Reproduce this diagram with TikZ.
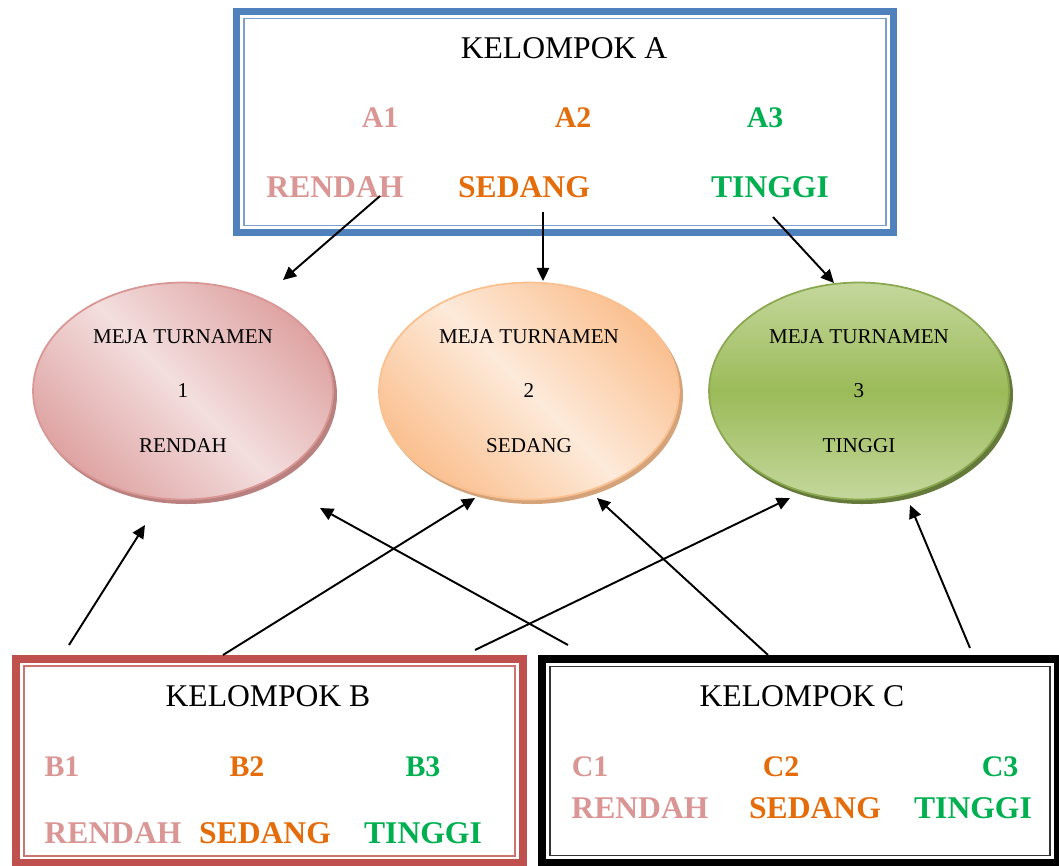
\documentclass[tikz,border=0pt]{standalone}
\usepackage{fontspec}
\setmainfont{Liberation Serif}
\usetikzlibrary{arrows.meta,positioning,calc,shapes.geometric}
\definecolor{grpA}{RGB}{79,129,189}
\definecolor{grpB}{RGB}{192,80,77}
\definecolor{lowcol}{RGB}{217,150,148}
\definecolor{midcol}{RGB}{228,108,10}
\definecolor{highcol}{RGB}{0,176,80}
\definecolor{lowdark}{RGB}{222,164,163}
\definecolor{lowlight}{RGB}{243,222,222}
\definecolor{middark}{RGB}{250,192,144}
\definecolor{midlight}{RGB}{253,234,218}
\definecolor{highdark}{RGB}{155,187,89}
\definecolor{highlight}{RGB}{196,215,156}
\tikzset{
  grpbox/.style={rectangle, draw, outer sep=0pt, inner sep=0pt},
  innerln/.style={line width=1.1pt},
  mejaell/.style={ellipse, draw, line width=1pt, inner sep=0pt,
    minimum width=6cm, minimum height=4.34cm, align=center,
    font=\fontsize{12}{14}\selectfont},
  tolink/.style={-{Triangle[length=7.5pt,width=7pt]}, line width=1.1pt},
}
\newcommand{\grpfont}{\fontsize{18}{20}\selectfont}
\newcommand{\codefont}{\fontsize{17}{19}\selectfont\bfseries}
\newcommand{\lvlfont}{\fontsize{18}{20}\selectfont\bfseries}
\newcommand{\mejaedge}[2]{%
  \fill[#1] #2 ellipse (151 and 109);
}

\begin{document}
\begin{tikzpicture}[x=0.02cm, y=-0.02cm]
  \useasboundingbox (0,0) rectangle (1059,866);

  % kelompok boxes
  \node[grpbox, draw=grpA, line width=3.98pt, minimum width=13.14cm, minimum height=4.42cm] (boxA) at (565,122) {};
  \draw[grpA!75, innerln] ($(boxA.north west)+(7,7)$) rectangle ($(boxA.south east)+(-7,-7)$);
  \node[grpbox, draw=grpB, line width=4.55pt, minimum width=10.14cm, minimum height=4.1cm] (boxB) at (269.5,761) {};
  \draw[grpB!80, innerln] ($(boxB.north west)+(7.5,7.5)$) rectangle ($(boxB.south east)+(-7.5,-7.5)$);
  \node[grpbox, draw=black, line width=4.55pt, minimum width=10.33cm, minimum height=4.1cm] (boxC) at (799.75,761) {};
  \draw[black!80, innerln] ($(boxC.north west)+(8,8)$) rectangle ($(boxC.south east)+(-8,-8)$);

  % texts of group A
  \node[font=\grpfont] (titA) at (564,48) {KELOMPOK A};
  \node[font=\codefont, lowcol] (a1) at (380,118) {A1};
  \node[font=\codefont, midcol] (a2) at (573,118) {A2};
  \node[font=\codefont, highcol] (a3) at (765,118) {A3};
  \node[font=\lvlfont, lowcol] (aR) at (335,187) {RENDAH};
  \node[font=\lvlfont, midcol] (aS) at (524,187) {SEDANG};
  \node[font=\lvlfont, highcol] (aT) at (770,187) {TINGGI};

  % texts of group B
  \node[font=\grpfont] (titB) at (268,696) {KELOMPOK B};
  \node[font=\codefont, lowcol] (b1) at (62,767) {B1};
  \node[font=\codefont, midcol] (b2) at (247,767) {B2};
  \node[font=\codefont, highcol] (b3) at (423,767) {B3};
  \node[font=\lvlfont, lowcol] (bR) at (113,833) {RENDAH};
  \node[font=\lvlfont, midcol] (bS) at (265,833) {SEDANG};
  \node[font=\lvlfont, highcol] (bT) at (423,833) {TINGGI};

  % texts of group C
  \node[font=\grpfont] (titC) at (802,696) {KELOMPOK C};
  \node[font=\codefont, lowcol] (c1) at (590,767) {C1};
  \node[font=\codefont, midcol] (c2) at (781,767) {C2};
  \node[font=\codefont, highcol] (c3) at (1000,767) {C3};
  \node[font=\lvlfont, lowcol] (cR) at (640,808) {RENDAH};
  \node[font=\lvlfont, midcol] (cS) at (815,808) {SEDANG};
  \node[font=\lvlfont, highcol] (cT) at (973,808) {TINGGI};

  % meja turnamen
  \mejaedge{lowcol!85!black}{(186,395)}
  \mejaedge{middark!85!black}{(532,395)}
  \mejaedge{highdark!65!black}{(862,395)}
  \node[mejaell, draw=lowcol, top color=lowdark, bottom color=lowdark, middle color=lowlight, shading angle=-45] (m1) at (183,391)
    {MEJA TURNAMEN\\[17pt]1\\[17pt]RENDAH};
  \node[mejaell, draw=middark, top color=middark, bottom color=middark, middle color=midlight, shading angle=-45] (m2) at (529,391)
    {MEJA TURNAMEN\\[17pt]2\\[17pt]SEDANG};
  \node[mejaell, draw=highdark!90!black, top color=highlight, bottom color=highlight, middle color=highdark] (m3) at (859,391)
    {MEJA TURNAMEN\\[17pt]3\\[17pt]TINGGI};

  % arrow ends
  \coordinate (sA1) at (380,196);  \coordinate (eA1) at (283,280);
  \coordinate (sA2) at (543,212);  \coordinate (eA2) at (543,281);
  \coordinate (sA3) at (773,217);  \coordinate (eA3) at (834,283);
  \coordinate (sB1) at (69,645);   \coordinate (eB1) at (145,525);
  \coordinate (sB2) at (223,655);  \coordinate (eB2) at (475,498);
  \coordinate (sB3) at (475,650);  \coordinate (eB3) at (790,498);
  \coordinate (sC1) at (568,645);  \coordinate (eC1) at (320,508);
  \coordinate (sC2) at (768,655);  \coordinate (eC2) at (597,498);
  \coordinate (sC3) at (970,648);  \coordinate (eC3) at (910,505);

  \foreach \g in {A1,A2,A3,B1,B2,B3,C1,C2,C3}
    \draw[tolink] (s\g) -- (e\g);
\end{tikzpicture}
\end{document}
